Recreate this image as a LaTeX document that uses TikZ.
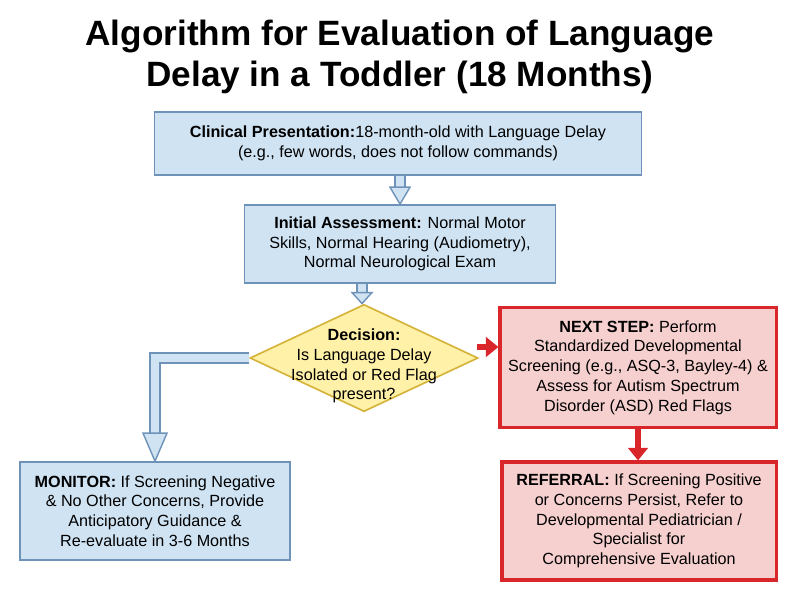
\documentclass[tikz,border=0pt]{standalone}
\usepackage{fontspec}
\setmainfont{Liberation Sans}
\usetikzlibrary{shapes.geometric,arrows.meta,calc}
\definecolor{bfill}{HTML}{CFE3F3}
\definecolor{bline}{HTML}{6F93B8}
\definecolor{yfill}{HTML}{FFF2A8}
\definecolor{yline}{HTML}{D6B43C}
\definecolor{rfill}{HTML}{F6CFCF}
\definecolor{rline}{HTML}{D9262A}
\begin{document}
\begin{tikzpicture}[x=0.025cm,y=-0.025cm,
 bbox/.style={draw=bline,line width=1.2pt,fill=bfill,align=center,font=\fontsize{11.5}{14}\selectfont,inner sep=2pt},
 rbox/.style={draw=rline,line width=2.2pt,fill=rfill,align=center,font=\fontsize{11.5}{14}\selectfont,inner sep=2pt},
 shaft/.style={draw=bline,double=bfill,double distance=6pt,line width=1pt},
 head/.style={draw=bline,fill=bfill,line width=1pt,line join=miter},
 red/.style={draw=rline,line width=4pt,-{Triangle[length=9pt,width=14pt]}}]
\useasboundingbox (0,0) rectangle (800,600);
\node[font=\fontsize{25}{29}\selectfont\bfseries,align=center] (title) at (400,57) {Algorithm for Evaluation of Language\\Delay in a Toddler (18 Months)};
\node[bbox,minimum width=12.17cm,minimum height=1.57cm] (c1) at (398,143.5) {\textbf{Clinical Presentation:}18-month-old with Language Delay\\(e.g., few words, does not follow commands)};
\node[bbox,minimum width=7.78cm,minimum height=1.95cm] (c2) at (400,244) {\textbf{Initial Assessment:} Normal Motor\\Skills, Normal Hearing (Audiometry),\\Normal Neurological Exam};
\node[diamond,draw=yline,line width=1.2pt,fill=yfill,inner sep=0pt,minimum width=5.7cm,minimum height=2.68cm] (d) at (364,358) {};
\node[align=center,font=\fontsize{11.5}{14}\selectfont] (dt) at (364,366) {\textbf{Decision:}\\Is Language Delay\\Isolated or Red Flag\\present?};
\node[bbox,minimum width=6.75cm,minimum height=2.45cm] (m) at (155,511) {\textbf{MONITOR:} If Screening Negative\\\& No Other Concerns, Provide\\Anticipatory Guidance \&\\Re-evaluate in 3-6 Months};
\node[rbox,minimum width=6.9cm,minimum height=3.02cm] (n) at (638,367.5) {\textbf{NEXT STEP:} Perform\\Standardized Developmental\\Screening (e.g., ASQ-3, Bayley-4) \&\\Assess for Autism Spectrum\\Disorder (ASD) Red Flags};
\node[rbox,minimum width=6.85cm,minimum height=2.95cm] (r) at (639,521) {\textbf{REFERRAL:} If Screening Positive\\or Concerns Persist, Refer to\\Developmental Pediatrician /\\Specialist for\\Comprehensive Evaluation};
% hollow arrows
\coordinate (a1) at (c2.north -| 400,0);
\draw[shaft] (c1.south -| a1) -- ($(a1)+(0,-16)$);
\draw[head] ($(a1)+(-10,-17)$) -- ($(a1)+(10,-17)$) -- (a1) -- cycle;
\coordinate (a2) at (d.north -| 362,0);
\draw[shaft] (c2.south -| a2) -- ($(a2)+(0,-10)$);
\draw[head] ($(a2)+(-10,-11)$) -- ($(a2)+(10,-11)$) -- (a2) -- cycle;
\draw[shaft] (d.west) -- (d.west -| m.north) -- ($(m.north)+(0,-27)$);
\draw[head] ($(m.north)+(-12,-28)$) -- ($(m.north)+(12,-28)$) -- (m.north) -- cycle;
% red arrows
\draw[red] ($(d.east)+(-2,-11)$) -- (n.west |- {$(d.east)+(0,-11)$});
\draw[red] (n.south) -- (r.north -| n.south);
\end{tikzpicture}
\end{document}
